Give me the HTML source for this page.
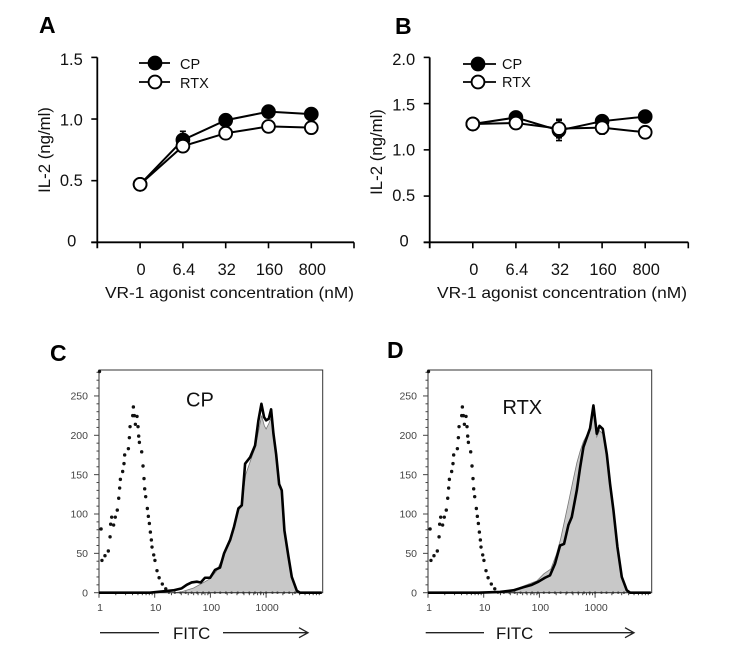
<!DOCTYPE html>
<html lang="en">
<head>
<meta charset="utf-8">
<title>IL-2 response and FITC histograms</title>
<style>
html,body{margin:0;padding:0;background:#fff;width:756px;height:657px;overflow:hidden}
svg{display:block;font-family:"Liberation Sans",sans-serif;filter:blur(0.35px)}
</style>
</head>
<body>
<svg id="figure" xmlns="http://www.w3.org/2000/svg" width="756" height="657" viewBox="0 0 756 657">
  <rect width="756" height="657" fill="#fff"/>
  <g font-weight="bold" font-size="23" fill="#000">
    <text x="39" y="33">A</text>
    <text x="395" y="34">B</text>
    <text x="50" y="361">C</text>
    <text x="387" y="358">D</text>
  </g>
  <g id="panelA"></g>
  <g id="panelB"></g>
  <g id="panelC"></g>
  <g id="panelD"></g>
</svg>
<script>
// ---- Line chart data ----
const concentrationLabels = ['0', '6.4', '32', '160', '800'];
const ticksA = [0, 0.5, 1.0, 1.5];
const tickLabelsA = ['0', '0.5', '1.0', '1.5'];
const ticksB = [0, 0.5, 1.0, 1.5, 2.0];
const tickLabelsB = ['0', '0.5', '1.0', '1.5', '2.0'];
const cpA = [0.47, 0.83, 0.99, 1.06, 1.04];
const cpErrA = [0, 0.07, 0.02, 0.02, 0.03];
const rtxA = [0.47, 0.78, 0.885, 0.94, 0.93];
const rtxErrA = [0, 0.03, 0.02, 0.02, 0.05];
const cpB = [1.28, 1.35, 1.21, 1.31, 1.36];
const cpErrB = [0, 0.03, 0.11, 0.03, 0.03];
const rtxB = [1.28, 1.29, 1.23, 1.24, 1.19];
const rtxErrB = [0, 0.06, 0.10, 0.07, 0.03];

// ---- Histogram data ----
const histYTicks = [0, 50, 100, 150, 200, 250];
const histXTicks = [1, 10, 100, 1000];
const histXLabels = ['1', '10', '100', '1000'];
const controlFitc = [1.02,1.09,1.13,1.28,1.47,1.58,1.62,1.69,1.83,1.96,2.13,2.26,2.35,2.42,2.66,2.81,2.89,3.37,3.51,3.61,4.03,4.14,4.31,4.5,4.82,5.02,5.16,5.31,5.84,6.17,6.43,6.61,6.89,7.38,7.69,8.02,8.36,8.71,8.95,9.6,10.1,11,12,13.7,15.8];
const controlCount = [281,81,41,47,53,71,87,96,86,96,105,120,133,144,154,164,175,183,197,211,225,236,225,214,224,211,199,191,179,161,145,132,122,107,97,88,77,67,58,48,41,28,19,11,5];
const controlZeroFitc = [18,23,29,36,46,58,74,94,120,150,190,240,310,390,500,630,800,1000,1300,1600,2100,2600,3300,4200,5300,6700,8500];
const stainFitcC = [1,8.2,21.6,30.5,37.6,46,57,67,80,99,121,149,176,226,266,318,366,420,516,634,728,824,920,1000,1117,1230,1355,1514,1714,1910,2133,2518,2891,3556,4083,10000];
const stainCountC = [0,0,3,5.5,10,13,14,13,19,19,29,32,50,67,84,107,111,164,172,187,219,240,223,219,221,233,202,176,138,130,79,46,20,2.5,0,0];
const fillFitcC = [22,30,50,80,100,130,170,220,270,320,370,430,520,640,730,830,930,1000,1120,1230,1355,1514,1714,1910,2133,2518,2891,3556,4083];
const fillCountC = [0,1,6,14,18,28,46,64,84,104,115,150,167,185,205,225,212,208,215,222,198,172,136,128,78,45,19,2,0];
const stainFitcD = [1,8,19.6,34,52,73,96,126,155,191,235,277,332,381,469,538,617,708,813,933,1072,1197,1374,1622,1858,2133,2518,3013,3707,4256,10000];
const stainCountD = [0,0,1,3,7,10,14,19,22,37,60,62,86,96,130,159,185,197,209,238,202,212,208,176,138,105,58,20,3,0,0];
const fillFitcD = [22,30,50,90,120,160,200,240,300,340,400,470,540,617,708,813,933,1072,1197,1374,1622,1858,2133,2518,3013,3707,4256];
const fillCountD = [0,2,8,15,24,30,48,68,100,118,142,165,180,192,200,207,230,198,206,202,172,135,102,55,18,2,0];

const SVG_NS = 'http://www.w3.org/2000/svg';
function make(parent, tag, attrs, text) {
  const el = document.createElementNS(SVG_NS, tag);
  for (const k in attrs) el.setAttribute(k, attrs[k]);
  if (text !== undefined) el.textContent = text;
  parent.appendChild(el);
  return el;
}

// ---- Line charts ----
function drawLineChart(cfg) {
  const g = document.getElementById(cfg.id);
  const xAt = i => cfg.left + cfg.band * (i + 1);
  const yAt = v => cfg.bottom - (v / cfg.yMax) * (cfg.bottom - cfg.top);

  const yAxis = make(g, 'line', {x1: cfg.left, x2: cfg.left, y1: cfg.top, y2: cfg.bottom + 6, stroke: '#000', 'stroke-width': 1.8});
  
  
  const xAxis = make(g, 'line', {x1: cfg.left - 6, x2: cfg.right, y1: cfg.bottom, y2: cfg.bottom, stroke: '#000', 'stroke-width': 1.8});
  
  
  const endTick = make(g, 'line', {x1: cfg.right, x2: cfg.right, y1: cfg.bottom, y2: cfg.bottom + 6, stroke: '#000', 'stroke-width': 1.6});
  
  

  cfg.ticks.forEach((t, i) => {
    const tick = make(g, 'line', {x1: cfg.left - 6, x2: cfg.left, y1: yAt(t), y2: yAt(t), stroke: '#000', 'stroke-width': 1.6});
    
    
    const lab = cfg.tickLabels[i];
    const label = make(g, 'text', {x: cfg.left - (lab === '0' ? 21 : 14.5), y: yAt(t) + 4 + 3.7 * (t / cfg.yMax), 'text-anchor': 'end', 'font-size': 16.5, fill: '#111'}, lab);
    
    
  });
  concentrationLabels.forEach((c, i) => {
    const tick = make(g, 'line', {x1: xAt(i), x2: xAt(i), y1: cfg.bottom, y2: cfg.bottom + 6, stroke: '#000', 'stroke-width': 1.6});
    
    
    const label = make(g, 'text', {x: xAt(i) + 1, y: 275, 'text-anchor': 'middle', 'font-size': 16.4, fill: '#111'}, c);
    
    
  });

  const xTitle = make(g, 'text', {x: cfg.titleX, y: 298, 'font-size': 16, fill: '#111', textLength: cfg.titleLen, lengthAdjust: 'spacingAndGlyphs'}, 'VR-1 agonist concentration (nM)');
  
  
  const yTitle = make(g, 'text', {transform: 'translate(' + cfg.yTitleX + ',' + cfg.yTitleY + ') rotate(-90)', 'text-anchor': 'middle', 'font-size': 16.8, fill: '#111'}, 'IL-2 (ng/ml)');
  
  

  function series(name, vals, errs, fill) {
    const pts = vals.map((v, i) => xAt(i) + ',' + yAt(v)).join(' ');
    vals.forEach((v, i) => {
      if (!errs[i]) return;
      const d = 'M' + xAt(i) + ' ' + yAt(v - errs[i]) + 'V' + yAt(v + errs[i]) +
        'M' + (xAt(i) - 3) + ' ' + yAt(v + errs[i]) + 'h6M' + (xAt(i) - 3) + ' ' + yAt(v - errs[i]) + 'h6';
      const err = make(g, 'path', {d: d, stroke: '#000', 'stroke-width': 1.6, fill: 'none'});
      
      
    });
    const line = make(g, 'polyline', {points: pts, fill: 'none', stroke: '#000', 'stroke-width': 2});
    
    
    vals.forEach((v, i) => {
      const pt = make(g, 'circle', {cx: xAt(i), cy: yAt(v), r: 6.4, fill: fill, stroke: '#000', 'stroke-width': 1.9});
      
      
    });
  }
  series('cp', cfg.cp, cfg.cpErr, '#000');
  series('rtx', cfg.rtx, cfg.rtxErr, '#fff');

  const L = cfg.legend;
  [['cp', 'CP', '#000', L.y1, L.t1], ['rtx', 'RTX', '#fff', L.y2, L.t2]].forEach(e => {
    const ln = make(g, 'line', {x1: L.x1, x2: L.x2, y1: e[3], y2: e[3], stroke: '#000', 'stroke-width': 1.7});
    
    
    const mk = make(g, 'circle', {cx: L.cx, cy: e[3], r: 6.4, fill: e[2], stroke: '#000', 'stroke-width': 1.9});
    
    
    const tx = make(g, 'text', {x: L.tx, y: e[4], 'font-size': 14.5, fill: '#111'}, e[1]);
    
    
  });
}

drawLineChart({id: 'panelA', left: 97.3, right: 354, band: 42.8, top: 57.4, bottom: 242.3, yMax: 1.5,
  ticks: ticksA, tickLabels: tickLabelsA, cp: cpA, cpErr: cpErrA, rtx: rtxA, rtxErr: rtxErrA,
  titleX: 105, titleLen: 249, yTitleX: 50, yTitleY: 150,
  legend: {x1: 139, x2: 170, cx: 155, y1: 63, y2: 82, t1: 69, t2: 88, tx: 180}});
drawLineChart({id: 'panelB', left: 429.7, right: 688.3, band: 43.1, top: 57.4, bottom: 242.3, yMax: 2,
  ticks: ticksB, tickLabels: tickLabelsB, cp: cpB, cpErr: cpErrB, rtx: rtxB, rtxErr: rtxErrB,
  titleX: 437, titleLen: 250, yTitleX: 382, yTitleY: 152,
  legend: {x1: 463, x2: 496, cx: 478, y1: 64, y2: 82, t1: 69, t2: 87, tx: 502}});

// ---- Histograms ----
function drawHistogram(cfg) {
  const g = document.getElementById(cfg.id);
  const top = 370, bottom = 592.7, decade = 55.7;
  const xAt = v => cfg.left + Math.log10(v) * decade;
  const yAt = c => bottom - c * 0.787;

  const fillPts = cfg.fillFitc.map((v, i) => xAt(v) + ',' + yAt(cfg.fillCount[i])).join(' ');
  const fill = make(g, 'polygon', {points: fillPts, fill: '#c8c8c8', stroke: '#777', 'stroke-width': 0.8});
  
  

  const box = make(g, 'rect', {x: cfg.left, y: top, width: cfg.right - cfg.left, height: bottom - top, fill: 'none', stroke: '#333', 'stroke-width': 1});
  
  

  for (let c = 0; c <= 280; c += 10) {
    const major = c % 50 === 0;
    const tick = make(g, 'line', {x1: cfg.left - (major ? 5 : 2.5), x2: cfg.left, y1: yAt(c), y2: yAt(c), stroke: '#444', 'stroke-width': 1});
    
    
  }
  histYTicks.forEach(c => {
    const label = make(g, 'text', {x: cfg.left - 11, y: yAt(c) + 3.6, 'text-anchor': 'end', 'font-size': 10.5, fill: '#444'}, String(c));
    
    
  });
  [1, 10, 100, 1000].forEach(base => {
    for (let m = 1; m <= 9; m++) {
      const tick = make(g, 'line', {x1: xAt(base * m), x2: xAt(base * m), y1: bottom, y2: bottom + (m === 1 ? 5 : 2.5), stroke: '#444', 'stroke-width': 1});
      
      
    }
  });
  histXTicks.forEach((v, i) => {
    const label = make(g, 'text', {x: xAt(v) + 1, y: 611, 'text-anchor': 'middle', 'font-size': 10.5, fill: '#444'}, histXLabels[i]);
    
    
  });

  controlZeroFitc.forEach(v => {
    const dot = make(g, 'circle', {cx: xAt(v), cy: yAt(0), r: 1.2, fill: '#333'});
    
    
  });
  controlFitc.forEach((v, i) => {
    const dot = make(g, 'circle', {cx: xAt(v), cy: yAt(controlCount[i]), r: 1.7, fill: '#111'});
    
    
  });

  const stainPts = cfg.stainFitc.map((v, i) => xAt(v) + ',' + yAt(cfg.stainCount[i])).join(' ');
  const stain = make(g, 'polyline', {points: stainPts, fill: 'none', stroke: '#000', 'stroke-width': 2.6, 'stroke-linejoin': 'round'});
  
  

  const title = make(g, 'text', {x: cfg.titleX, y: cfg.titleY, 'font-size': 20, fill: '#111'}, cfg.title);
  
  

  const A = cfg.arrow;
  const lead = make(g, 'line', {x1: A.a, x2: A.b, y1: 632.7, y2: 632.7, stroke: '#222', 'stroke-width': 1.3});
  
  
  const fitc = make(g, 'text', {x: A.t, y: 639, 'font-size': 16.8, fill: '#111'}, 'FITC');
  
  
  const arrow = make(g, 'path', {d: 'M' + A.c + ' 632.7H' + A.d + 'M' + (A.d - 9) + ' 627.7L' + A.d + ' 632.7L' + (A.d - 9) + ' 637.7', fill: 'none', stroke: '#222', 'stroke-width': 1.3});
  
  
}

drawHistogram({id: 'panelC', left: 99, right: 322.7, fillFitc: fillFitcC, fillCount: fillCountC,
  stainFitc: stainFitcC, stainCount: stainCountC, title: 'CP', titleX: 186, titleY: 406.5,
  arrow: {a: 100, b: 159, t: 173, c: 223, d: 308}});
drawHistogram({id: 'panelD', left: 428, right: 651.7, fillFitc: fillFitcD, fillCount: fillCountD,
  stainFitc: stainFitcD, stainCount: stainCountD, title: 'RTX', titleX: 502.5, titleY: 414,
  arrow: {a: 425.7, b: 484, t: 496, c: 549, d: 634}});
</script>
</body>
</html>
